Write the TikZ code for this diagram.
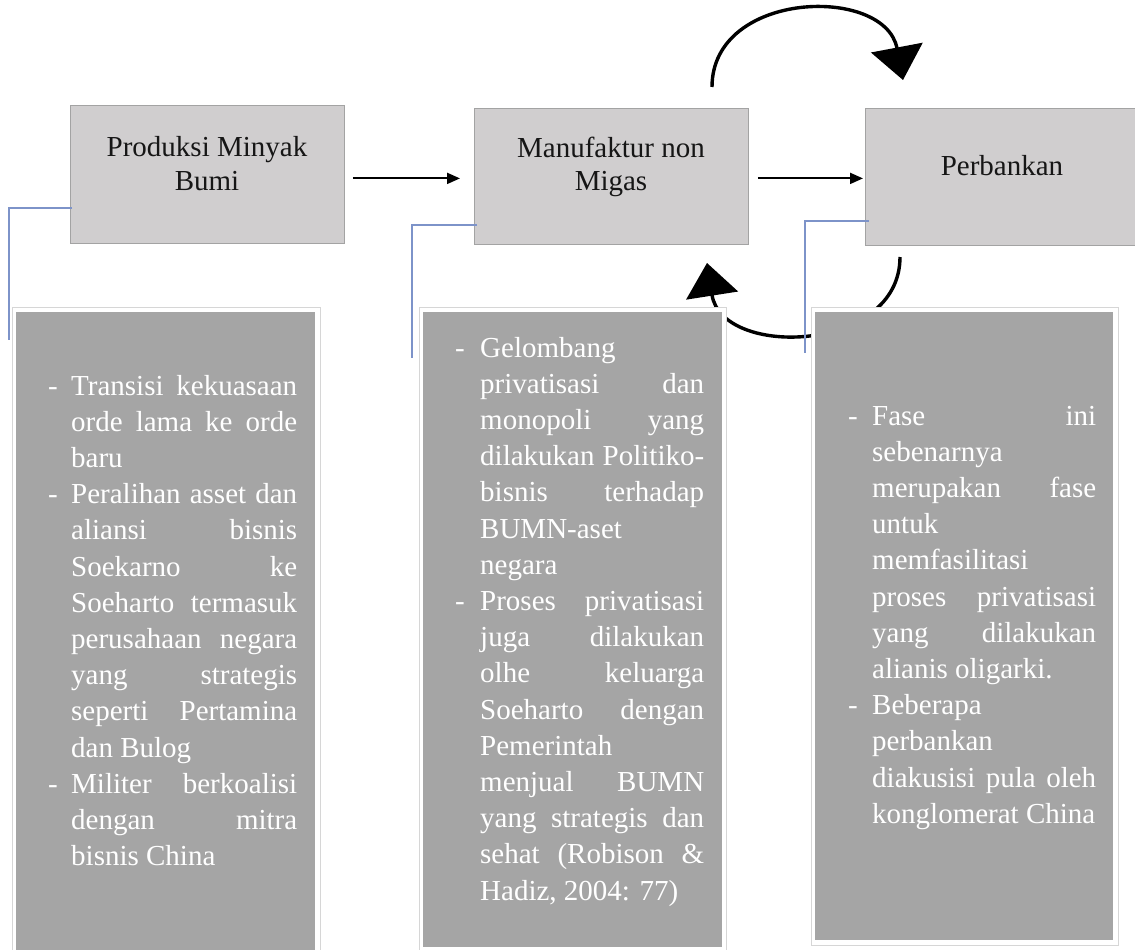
\documentclass[tikz,border=0pt]{standalone}
\usepackage{fontspec}
\setmainfont{Liberation Serif}
\usetikzlibrary{arrows.meta,calc}
\definecolor{topfill}{HTML}{D0CECF}
\definecolor{topedge}{HTML}{A3A3A3}
\definecolor{panelfill}{HTML}{A5A5A5}
\definecolor{panelframe}{HTML}{D6D6D6}
\definecolor{leader}{HTML}{7D93C9}
\definecolor{ink}{HTML}{161616}
\newdimen\tw \newdimen\dw
\newcommand\pJL[1]{\hbox{\hskip\dw\hbox to\tw{#1}}}
\newcommand\pLL[1]{\hbox{\hskip\dw\hbox to\tw{#1\hfil}}}
\newcommand\pIJ[1]{\hbox{\hbox to\dw{-\hfil}\hbox to\tw{#1}}}
\newcommand\pIL[1]{\hbox{\hbox to\dw{-\hfil}\hbox to\tw{#1\hfil}}}
\newcommand\panelbody[3]{\tw=#1pt\dw=#2pt\vtop{\baselineskip=36.2pt\lineskiplimit=-100pt\lineskip=0pt #3}}
\newcommand\twoline[3]{\vtop{\baselineskip=#1pt\hbox to 274pt{\hfil#2\hfil}\hbox to 274pt{\hfil#3\hfil}}}
\tikzset{
  topbox/.style={draw=topedge, fill=topfill, line width=0.8pt, minimum width=274pt, anchor=north west, inner sep=0pt},
  pframe/.style={draw=panelframe, fill=white, line width=0.8pt, anchor=north west, inner sep=0pt},
  panelbox/.style={fill=panelfill, anchor=north west, inner sep=0pt},
  toptext/.style={text=ink, inner sep=0pt, anchor=base, font=\fontsize{29}{34}\selectfont},
  paneltext/.style={text=white, inner sep=0pt, anchor=base west, font=\fontsize{29}{36}\selectfont},
  flow/.style={-{Triangle[length=13pt,width=11pt]}, line width=2pt, black},
  cycler/.style={-{Triangle[length=33pt,width=52pt]}, line width=3.4pt, black},
  leaderline/.style={leader, line width=1.4pt},
}
\begin{document}
\begin{tikzpicture}[x=1pt,y=-1pt]
\useasboundingbox (0,0) rectangle (1135,950);
\clip (0,0) rectangle (1135,950);

% top boxes
\node[topbox, minimum height=138pt] (b1) at (70,105) {};
\node[topbox, minimum height=136pt] (b2) at (474,108) {};
\node[topbox, minimum height=137pt] (b3) at (865,108) {};
\node[toptext] (t1) at (207,156) {\twoline{34}{Produksi Minyak}{Bumi}};
\node[toptext] (t2) at (611,157) {\twoline{33}{Manufaktur non}{Migas}};
\node[toptext] (t3) at (1002,175) {Perbankan};

% straight arrows
\draw[flow] ($(b1.east)+(8,4)$) -- ($(b2.west)+(-14,2)$);
\draw[flow] ($(b2.east)+(9,2)$) -- ($(b3.west)+(-2,1.5)$);

% curved arrows
\coordinate (u1) at (712,87);
\coordinate (u2) at (903,80);
\draw[cycler] (u1) .. controls +(0,-97) and +(-18,-95) .. (u2);
\coordinate (d1) at (900,257);
\coordinate (d2) at (707,263);
\draw[cycler] (d1) .. controls +(0,96) and +(15,96) .. (d2);

% panels
\node[pframe, minimum width=308pt, minimum height=650pt] (f1) at (12,307) {};
\node[panelbox, minimum width=299pt, minimum height=645pt] (p1) at (16,312) {};
\node[pframe, minimum width=307pt, minimum height=645pt] (f2) at (419,307) {};
\node[panelbox, minimum width=299pt, minimum height=635pt] (p2) at (423,312) {};
\node[pframe, minimum width=307pt, minimum height=638pt] (f3) at (811,307) {};
\node[panelbox, minimum width=298pt, minimum height=628pt] (p3) at (815,312) {};

% leader lines
\coordinate (l1) at (9,340);
\coordinate (l2) at (412,358);
\coordinate (l3) at (805,353);
\draw[leaderline] ($(b1.south west)+(2,-36)$) -| (l1);
\draw[leaderline] ($(b2.south west)+(3,-20)$) -| (l2);
\draw[leaderline] ($(b3.south west)+(4,-25)$) -| (l3);

% panel texts
\node[paneltext] (x1) at (48,395) {\panelbody{226}{23}{%
\pIJ{Transisi kekuasaan}
\pJL{orde lama ke orde}
\pLL{baru}
\pIJ{Peralihan asset dan}
\pJL{aliansi bisnis}
\pJL{Soekarno ke}
\pJL{Soeharto termasuk}
\pJL{perusahaan negara}
\pJL{yang strategis}
\pJL{seperti Pertamina}
\pLL{dan Bulog}
\pIJ{Militer berkoalisi}
\pJL{dengan mitra}
\pLL{bisnis China}}};

\node[paneltext] (x2) at (455,357) {\panelbody{224}{25}{%
\pIL{Gelombang}
\pJL{privatisasi dan}
\pJL{monopoli yang}
\pJL{dilakukan Politiko-}
\pJL{bisnis terhadap}
\pLL{BUMN-aset}
\pLL{negara}
\pIJ{Proses privatisasi}
\pJL{juga dilakukan}
\pJL{olhe keluarga}
\pJL{Soeharto dengan}
\pLL{Pemerintah}
\pJL{menjual BUMN}
\pJL{yang strategis dan}
\pJL{sehat (Robison \&}
\pLL{Hadiz, 2004: 77)}}};

\node[paneltext] (x3) at (848,425) {\panelbody{224}{24}{%
\pIJ{Fase ini}
\pLL{sebenarnya}
\pJL{merupakan fase}
\pLL{untuk}
\pLL{memfasilitasi}
\pJL{proses privatisasi}
\pJL{yang dilakukan}
\pLL{alianis oligarki.}
\pIL{Beberapa}
\pLL{perbankan}
\pJL{diakusisi pula oleh}
\pLL{konglomerat China}}};
\end{tikzpicture}
\end{document}
